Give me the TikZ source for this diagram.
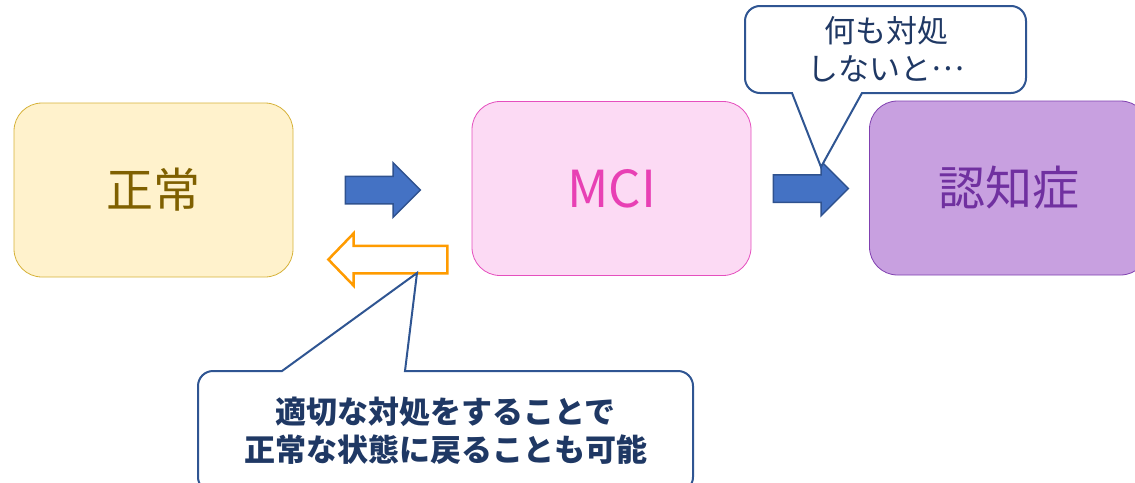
\documentclass[tikz,border=0pt]{standalone}
\usepackage{fontspec}
\setmainfont{Noto Sans CJK JP}
\usetikzlibrary{shapes.arrows}
\definecolor{NormalFill}{HTML}{FFF2CC}
\definecolor{NormalLine}{HTML}{D6B23A}
\definecolor{NormalText}{HTML}{7F6000}
\definecolor{MciFill}{HTML}{FCDAF4}
\definecolor{MciLine}{HTML}{E54FBE}
\definecolor{MciText}{HTML}{E840B4}
\definecolor{DemFill}{HTML}{C8A0E0}
\definecolor{DemLine}{HTML}{8040B0}
\definecolor{DemText}{HTML}{7030A0}
\definecolor{ArrowBlue}{HTML}{4472C4}
\definecolor{ArrowEdge}{HTML}{2F528F}
\definecolor{BackOrange}{HTML}{FF9B00}
\definecolor{NoteLine}{HTML}{2F5592}
\definecolor{NoteText}{HTML}{1F3864}
\begin{document}
\begin{tikzpicture}[x=1pt, y=-1pt,
        stage/.style={rectangle, rounded corners=28pt, minimum width=279pt, minimum height=174pt, line width=0.8pt, font=\fontsize{47}{56}\selectfont},
        fwd/.style={single arrow, draw=ArrowEdge, fill=ArrowBlue, line width=1.5pt, inner xsep=0pt, inner ysep=13pt, minimum height=75pt, single arrow head extend=13.5pt, single arrow tip angle=90},
        back/.style={single arrow, shape border rotate=180, draw=BackOrange, fill=white, line width=2.5pt, inner xsep=0pt, inner ysep=12.5pt, minimum height=119pt, single arrow head extend=12.5pt, single arrow tip angle=92},
        note/.style={draw=NoteLine, line width=2pt, fill=white},
        notetext/.style={text=NoteText, align=center, font=\fontsize{31}{38}\selectfont}
    ]
        \useasboundingbox (0,0) rectangle (1135,482);

        % stages
        \node[stage, fill=NormalFill, draw=NormalLine, text=NormalText] (normal) at (153.5,190) {正常};
        \node[stage, fill=MciFill, draw=MciLine, text=MciText, font=\fontsize{51}{60}\selectfont] (mci) at (611.5,188.5) {MCI};
        \node[stage, fill=DemFill, draw=DemLine, text=DemText] (dementia) at (1009,188) {認知症};

        % block arrows
        \node[fwd] (toMci) at (376,190) {};
        \node[fwd] (toDem) at (804,188.5) {};
        \node[back] (toNormal) at (394.5,259.5) {};

        % callouts
        \coordinate (warntip) at (821,167);
        \coordinate (backtip) at (417,273);
        \draw[note] (792,93) [rounded corners=15pt] -- (745,93) -- (745,6) -- (1026,6) -- (1026,93) [sharp corners] -- (862,93) -- (warntip) -- cycle;
        \node[notetext] (warn) at (886,49) {何も対処\\しないと\raisebox{0.33em}{…}};
        \draw[note] (405,371) [rounded corners=15pt] -- (693,371) -- (693,492) -- (198,492) -- (198,371) [sharp corners] -- (282,371) -- (backtip) -- cycle;
        \node[notetext, font=\fontsize{31}{38}\selectfont\bfseries] (hope) at (445.5,431) {適切な対処をすることで\\正常な状態に戻ることも可能};
    \end{tikzpicture}
\end{document}
